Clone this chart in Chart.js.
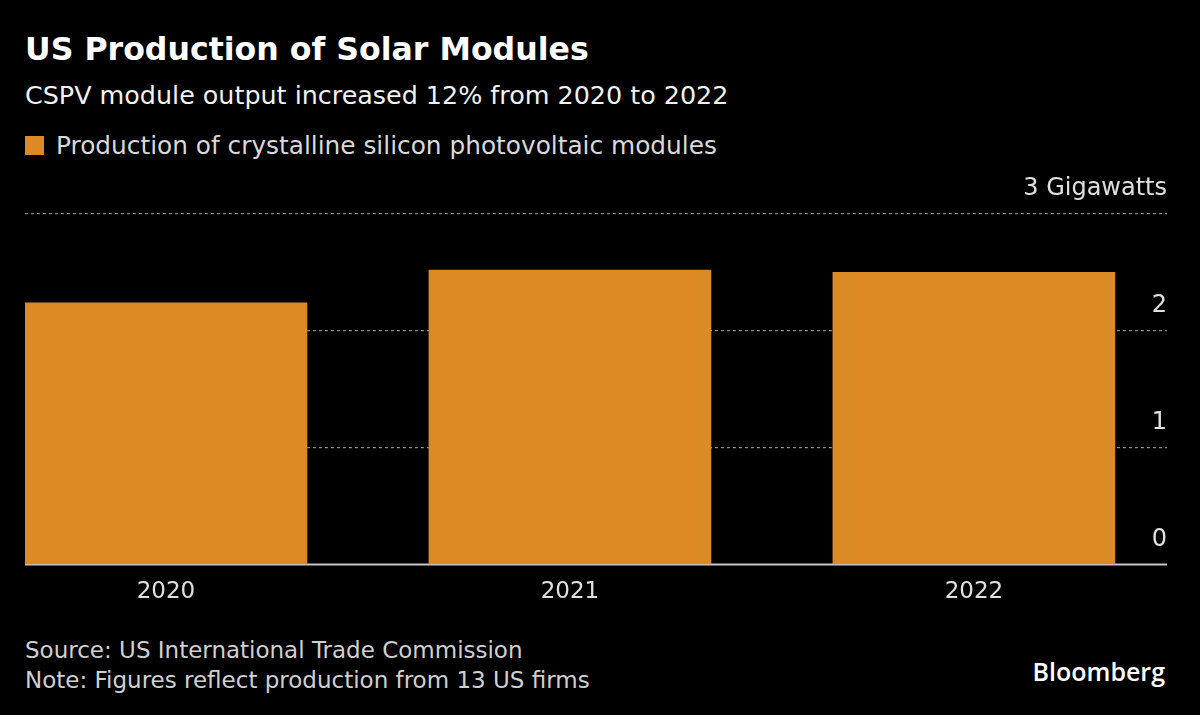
<!DOCTYPE html>
<html>
<head>
<meta charset="utf-8">
<script src="https://cdn.jsdelivr.net/npm/chart.js@4"></script>
<style>
  html, body { margin: 0; padding: 0; background: #000; }
  body { width: 1200px; height: 715px; position: relative; overflow: hidden;
         font-family: "DejaVu Sans", sans-serif; color: #fff; }
  .t { position: absolute; left: 25px; white-space: nowrap; }
  #title { top: 31px; font-size: 31.6px; font-weight: bold; }
  #sub { top: 80px; font-size: 25.4px; color: #f2f2f2; }
  #legend { top: 131px; font-size: 24.8px; color: #d9d9d9; }
  #legend span { display: inline-block; width: 19px; height: 19px; background: #DC8A25;
                 margin-right: 12px; vertical-align: -1px; }
  #src { top: 635px; font-size: 23px; color: #d0d0d0; line-height: 30px; }
  #brand { position: absolute; right: 35px; top: 654px; font-family: "Open Sans", sans-serif;
           font-weight: 600; font-size: 25px; color: #fff; }
  #wrap { position: absolute; left: 0; top: 165px; width: 1200px; height: 460px; }
</style>
</head>
<body>
<div class="t" id="title">US Production of Solar Modules</div>
<div class="t" id="sub">CSPV module output increased 12% from 2020 to 2022</div>
<div class="t" id="legend"><span></span>Production of crystalline silicon photovoltaic modules</div>
<div class="t" id="src">Source: US International Trade Commission<br>Note: Figures reflect production from 13 US firms</div>
<div id="brand">Bloomberg</div>
<div id="wrap"><canvas id="chart"></canvas></div>
<script>
const years = ["2020", "2021", "2022"];
const gigawatts = [2.24, 2.52, 2.50];
const yTicks = [0, 1, 2, 3];

const fontFamily = '"DejaVu Sans", sans-serif';

new Chart(document.getElementById("chart"), {
    type: "bar",
    data: {
        datasets: [{
            label: "Production of crystalline silicon photovoltaic modules",
            data: years.map((y, i) => ({ x: i, y: gigawatts[i] })),
            backgroundColor: "#DC8A25",
            barThickness: 282
        }]
    },
    options: {
        responsive: true,
        maintainAspectRatio: false,
        animation: false,
        layout: { padding: { left: 25, right: 33, top: 49, bottom: 5 } },
        plugins: { legend: { display: false }, tooltip: { enabled: false } },
        scales: {
            x: {
                type: "linear",
                min: -0.349,
                max: 2.478,
                bounds: "data",
                offset: false,
                afterBuildTicks: (axis) => {
                    axis.ticks = years.map((y, i) => ({ value: i }));
                },
                grid: { display: false, drawTicks: false, offset: false },
                border: { display: false },
                ticks: {
                    color: "#e0e0e0",
                    font: { family: fontFamily, size: 23 },
                    padding: 14,
                    autoSkip: false,
                    maxRotation: 0,
                    callback: (v) => years[v]
                }
            },
            y: {
                position: "right",
                min: 0,
                max: 3,
                afterBuildTicks: (axis) => {
                    axis.ticks = yTicks.map((v) => ({ value: v }));
                },
                grid: {
                    color: (ctx) => ctx.tick && ctx.tick.value === 0 ? "rgba(0,0,0,0)" : "#8a8a8a",
                    lineWidth: 1.2,
                    drawTicks: false
                },
                border: { display: false, dash: [3, 3] },
                ticks: {
                    mirror: true,
                    padding: 0,
                    labelOffset: -25,
                    color: "#e0e0e0",
                    font: { family: fontFamily, size: 24 },
                    callback: (v) => v === 3 ? "3 Gigawatts" : String(v)
                }
            }
        }
    },
    plugins: [{
        id: "baseline",
        beforeDatasetsDraw(chart) {
            const { ctx, chartArea, scales } = chart;
            const y0 = scales.y.getPixelForValue(0);
            ctx.save();
            ctx.strokeStyle = "#c8c8c8";
            ctx.lineWidth = 2;
            ctx.beginPath();
            ctx.moveTo(chartArea.left, y0);
            ctx.lineTo(chartArea.right, y0);
            ctx.stroke();
            ctx.restore();
        }
    }]
});
</script>
</body>
</html>
